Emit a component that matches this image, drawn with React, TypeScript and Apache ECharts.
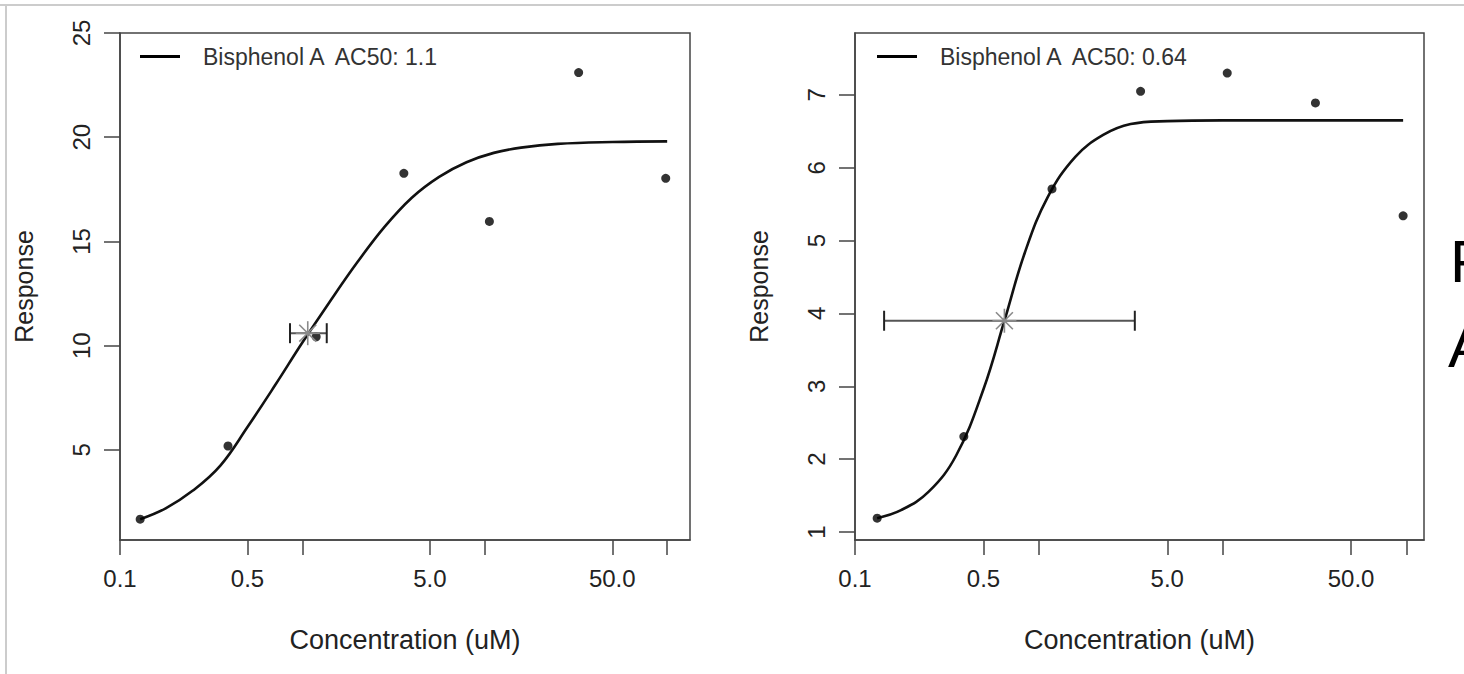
import { useEffect, useRef } from "react";
import * as echarts from "echarts";

// ---- data ----
const leftConc = [0.129, 0.391, 1.19, 3.6, 10.6, 32.7, 98.2];
const leftResp = [1.68, 5.19, 10.43, 18.27, 15.96, 23.1, 18.03];
const leftCurveConc = [0.129, 0.178, 0.251, 0.355, 0.5, 0.708, 1.0, 1.41, 2.0, 2.82, 3.98, 5.62, 7.94, 11.2, 15.8, 25.1, 50.1, 100];
const leftCurveResp = [1.68, 2.2, 3.05, 4.25, 6.1, 8.1, 10.15, 12.1, 14.0, 15.7, 17.1, 18.1, 18.8, 19.25, 19.5, 19.68, 19.77, 19.8];
const leftAc50 = [1.07, 10.6, 0.855, 1.36]; // x, y, low, high

const rightConc = [0.132, 0.391, 1.18, 3.58, 10.6, 32, 96];
const rightResp = [1.19, 2.31, 5.71, 7.05, 7.3, 6.89, 5.34];
const rightCurveConc = [0.132, 0.178, 0.251, 0.355, 0.5, 0.65, 0.841, 1.12, 1.58, 2.24, 3.16, 5.0, 10, 20, 40, 96];
const rightCurveResp = [1.19, 1.3, 1.55, 2.05, 2.96, 3.9, 4.84, 5.6, 6.15, 6.45, 6.6, 6.64, 6.65, 6.65, 6.65, 6.65];
const rightAc50 = [0.65, 3.9, 0.144, 3.33];

const xTickValues = [0.1, 0.5, 1, 5, 10, 50, 100];
const xLabelValues = [0.1, 0.5, 5, 50];
const xTickLabels = ["0.1", "0.5", "5.0", "50.0"];
const leftYTicks = [5, 10, 15, 20, 25];
const rightYTicks = [1, 2, 3, 4, 5, 6, 7];
const leftLegend = "Bisphenol A  AC50: 1.1";
const rightLegend = "Bisphenol A  AC50: 0.64";
const xTitle = "Concentration (uM)";
const yTitle = "Response";

const FONT = '"Liberation Sans", Arial, sans-serif';

function zip(a: number[], b: number[]) {
  return a.map((v, i) => [v, b[i]]);
}

function xLabelFormatter(v: number) {
  let best = 0;
  let bd = Infinity;
  xLabelValues.forEach((lv, i) => {
    const d = Math.abs(Math.log10(lv) - v);
    if (d < bd) {
      bd = d;
      best = i;
    }
  });
  return xTickLabels[best];
}

function renderAc50(params: any, api: any) {
  const yv = api.value(1);
  const c = api.coord([api.value(0), yv]);
  const lo = api.coord([api.value(2), yv]);
  const hi = api.coord([api.value(3), yv]);
  const cap = 10;
  const r = 12;
  const d = r * Math.SQRT1_2;
  const bar = { stroke: "#555", lineWidth: 2 };
  const star = { stroke: "#8a8a8a", lineWidth: 1.6 };
  return {
    type: "group",
    children: [
      { type: "line", shape: { x1: lo[0], y1: lo[1], x2: hi[0], y2: hi[1] }, style: bar },
      { type: "line", shape: { x1: lo[0], y1: lo[1] - cap, x2: lo[0], y2: lo[1] + cap }, style: { stroke: "#222", lineWidth: 2 } },
      { type: "line", shape: { x1: hi[0], y1: hi[1] - cap, x2: hi[0], y2: hi[1] + cap }, style: { stroke: "#222", lineWidth: 2 } },
      { type: "line", shape: { x1: c[0] - r, y1: c[1], x2: c[0] + r, y2: c[1] }, style: star },
      { type: "line", shape: { x1: c[0], y1: c[1] - r, x2: c[0], y2: c[1] + r }, style: star },
      { type: "line", shape: { x1: c[0] - d, y1: c[1] - d, x2: c[0] + d, y2: c[1] + d }, style: star },
      { type: "line", shape: { x1: c[0] - d, y1: c[1] + d, x2: c[0] + d, y2: c[1] - d }, style: star },
    ],
  };
}

function makeXAxes(gridIndex: number, max: number) {
  return [
    { type: "log", gridIndex, logBase: 10, min: 0.1, max, show: false },
    {
      type: "value",
      gridIndex,
      position: "bottom",
      min: -1,
      max: Math.log10(max),
      axisLine: { show: true, onZero: false, lineStyle: { color: "#444", width: 1.5 } },
      axisTick: {
        show: true,
        customValues: xTickValues.map((v) => Math.log10(v)),
        length: 15,
        lineStyle: { color: "#444", width: 1.5 },
      },
      axisLabel: {
        customValues: xLabelValues.map((v) => Math.log10(v)),
        formatter: xLabelFormatter,
        margin: 26,
        fontSize: 24,
        color: "#222",
        fontFamily: FONT,
      },
      splitLine: { show: false },
      name: xTitle,
      nameLocation: "middle",
      nameGap: 86,
      nameTextStyle: { fontSize: 27, color: "#222", fontFamily: FONT },
    },
  ];
}

function makeYAxis(gridIndex: number, min: number, max: number, ticks: number[]) {
  return {
    type: "value",
    gridIndex,
    min,
    max,
    axisLine: { show: true, onZero: false, lineStyle: { color: "#444", width: 1.5 } },
    axisTick: { show: true, customValues: ticks, length: 16, lineStyle: { color: "#444", width: 1.5 } },
    axisLabel: {
      customValues: ticks,
      rotate: 90,
      margin: 27,
      fontSize: 24,
      color: "#222",
      fontFamily: FONT,
    },
    splitLine: { show: false },
    name: yTitle,
    nameLocation: "middle",
    nameGap: 84,
    nameTextStyle: { fontSize: 25, color: "#222", fontFamily: FONT },
  };
}

function panelSeries(
  name: string,
  xAxisIndex: number,
  yAxisIndex: number,
  conc: number[],
  resp: number[],
  cConc: number[],
  cResp: number[],
  ac50: number[]
) {
  return [
    {
      type: "line",
      name,
      xAxisIndex,
      yAxisIndex,
      data: zip(cConc, cResp),
      smooth: 0.4,
      showSymbol: false,
      color: "#000",
      lineStyle: { color: "#111", width: 2.6 },
      z: 3,
    },
    {
      type: "scatter",
      xAxisIndex,
      yAxisIndex,
      data: zip(conc, resp),
      symbolSize: 9,
      itemStyle: { color: "#000" },
      z: 4,
    },
    {
      type: "custom",
      xAxisIndex,
      yAxisIndex,
      renderItem: renderAc50,
      data: [ac50],
      encode: { x: [0, 2, 3], y: 1 },
      z: 5,
    },
  ];
}

function legendFor(name: string, left: number) {
  return {
    data: [name],
    left,
    top: 45,
    padding: 0,
    icon: "path://M0,0H40V3H0Z",
    itemWidth: 40,
    itemHeight: 3,
    selectedMode: false,
    textStyle: { fontSize: 23, color: "#333", fontFamily: FONT, padding: [0, 0, 0, 18] },
  };
}

export default function App() {
  const ref = useRef<HTMLDivElement>(null);
  useEffect(() => {
    if (!ref.current) return;
    const chart = echarts.init(ref.current, null, { renderer: "svg" });
    const option: any = {
      animation: false,
      backgroundColor: "#fff",
      grid: [
        { left: 120, top: 33, width: 570, height: 507, show: true, borderColor: "#444", borderWidth: 1.5, backgroundColor: "transparent" },
        { left: 855, top: 33, width: 569, height: 507, show: true, borderColor: "#444", borderWidth: 1.5, backgroundColor: "transparent" },
      ],
      xAxis: [...makeXAxes(0, 133.4), ...makeXAxes(1, 124.7)],
      yAxis: [makeYAxis(0, 0.68, 25, leftYTicks), makeYAxis(1, 0.89, 7.85, rightYTicks)],
      legend: [legendFor(leftLegend, 140), legendFor(rightLegend, 877)],
      series: [
        ...panelSeries(leftLegend, 0, 0, leftConc, leftResp, leftCurveConc, leftCurveResp, leftAc50),
        ...panelSeries(rightLegend, 2, 1, rightConc, rightResp, rightCurveConc, rightCurveResp, rightAc50),
      ],
      graphic: [
        { type: "line", shape: { x1: 0, y1: 5, x2: 1464, y2: 5 }, style: { stroke: "#cccccc", lineWidth: 2 } },
        { type: "line", shape: { x1: 6, y1: 5, x2: 6, y2: 674 }, style: { stroke: "#cccccc", lineWidth: 2 } },
        { type: "text", x: 1450, y: 231, style: { text: "F", font: '60px "Liberation Sans", Arial, sans-serif', fill: "#000", textVerticalAlign: "top" } },
        { type: "text", x: 1448, y: 316, style: { text: "A", font: '60px "Liberation Sans", Arial, sans-serif', fill: "#000", textVerticalAlign: "top" } },
      ],
    };
    chart.setOption(option);
    return () => chart.dispose();
  }, []);
  return (
    <div
      ref={ref}
      style={{ position: "absolute", left: 0, top: 0, width: 1464, height: 674, background: "#fff" }}
    />
  );
}
